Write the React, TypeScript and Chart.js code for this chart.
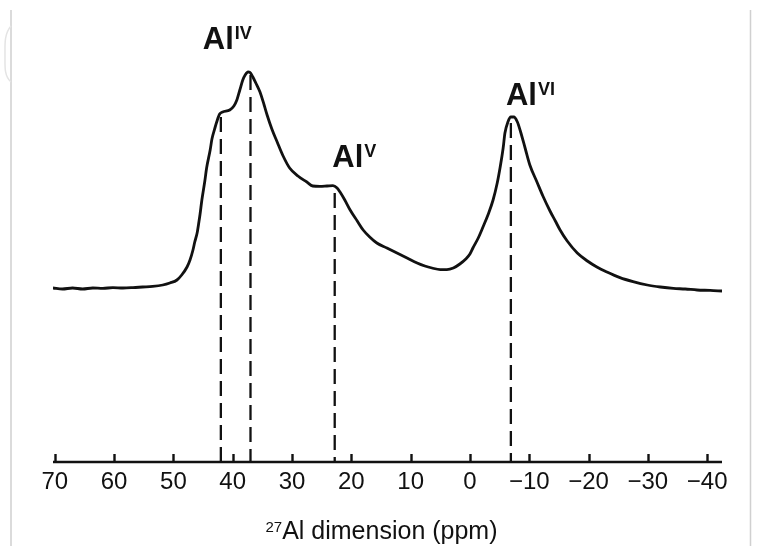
import React, { useEffect, useRef } from "react";
import { Chart, registerables } from "chart.js";

Chart.register(...registerables);

// 27Al chemical shift (ppm), high to low
const shiftPpm = [
  70.3, 68.7, 67.0, 65.3, 63.6, 61.9, 60.2, 58.5, 56.8, 55.2, 53.5, 51.8,
  50.6, 49.4, 48.6, 47.7, 47.2, 46.7, 46.4, 46.0, 45.7, 45.5, 45.2, 44.7,
  44.4, 43.8, 43.5, 43.0, 42.7, 42.2, 41.7, 40.5, 39.8, 39.3, 38.8, 38.3,
  37.9, 37.4, 37.1, 36.6, 36.1, 35.4, 34.7, 34.2, 33.4, 32.5, 31.5, 30.4,
  29.0, 27.5, 26.5, 25.3, 24.1, 23.1, 22.4, 21.9, 21.1, 20.2, 19.0, 18.0,
  16.9, 15.7, 14.0, 12.3, 10.6, 8.9, 7.6, 6.4, 5.0, 3.9, 2.8, 1.7,
  0.7, 0.0, -0.5, -1.4, -2.2, -3.1, -3.9, -4.6, -5.1, -5.6, -5.9, -6.4,
  -6.9, -7.4, -8.0, -8.5, -9.3, -10.1, -11.3, -12.3, -13.5, -14.4, -15.2, -16.4,
  -18.1, -19.8, -21.4, -23.1, -25.3, -27.5, -29.9, -32.1, -34.3, -36.3, -38.3, -40.5,
  -42.5,
];

// signal intensity (arbitrary units)
const intensity = [
  43.5, 43.25, 43.5, 43.25, 43.5, 43.4, 43.6, 43.5, 43.6, 43.75, 43.9, 44.25,
  44.75, 45.5, 46.75, 48.75, 50.5, 53, 55, 57.25, 60, 62, 65.5, 70.25,
  73.5, 78, 80.75, 83.5, 85, 87, 87.5, 88, 89, 90.5, 93, 95.5,
  96.75, 97.5, 97.4, 96.25, 94.75, 92.5, 89.25, 86.75, 83.25, 80, 76.5, 73.5,
  71.5, 70, 69, 68.9, 69, 69.1, 68.5, 67.5, 65.5, 63, 60.25, 58,
  56.25, 54.75, 53.5, 52.25, 51, 49.75, 49, 48.5, 48.1, 48.1, 48.5, 49.5,
  50.75, 52, 53.5, 56, 58.75, 62, 65.5, 69.75, 73.75, 78.5, 82.25, 85,
  86.25, 86.25, 85, 82.75, 78.5, 74.25, 70, 66.5, 62.75, 60.25, 58, 55.25,
  52.25, 50.25, 48.75, 47.5, 46.1, 45.1, 44.25, 43.75, 43.4, 43.25, 43, 42.9,
  42.75,
];

const tickValues = [70, 60, 50, 40, 30, 20, 10, 0, -10, -20, -30, -40];
const xMin = -42.5;
const xMax = 70.3;
const yMin = 0;
const yMax = 115.5;

// dashed marker lines: position (ppm) and top level
const markerPpm = [42.0, 37.0, 22.8, -6.9];
const markerTop = [86.25, 96.75, 67.25, 84.75];

// peak labels
const peakSup = ["IV", "V", "VI"];
const peakLabelPpm = [40.9, 19.5, -10.2];
const peakLabelLevel = [103.3, 73.75, 89.25];

const titleSup = "27";
const titleMain = "Al dimension (ppm)";

const FONT = '"Liberation Sans", Arial, Helvetica, sans-serif';
const INK = "#111111";

const fmtTick = (v: number) => (v < 0 ? "\u2212" + Math.abs(v) : String(v));

const decorPlugin = {
  id: "decor",
  afterDraw(chart: any) {
    const { ctx, chartArea } = chart;
    const xs = chart.scales.x;
    const ys = chart.scales.y;
    ctx.save();

    // page frame artifacts (light grey)
    ctx.strokeStyle = "#d0d0d0";
    ctx.lineWidth = 1.5;
    ctx.beginPath();
    ctx.moveTo(11, 10);
    ctx.lineTo(11, 546);
    ctx.moveTo(750.5, 10);
    ctx.lineTo(750.5, 546);
    ctx.stroke();
    ctx.strokeStyle = "#e4e4e4";
    ctx.beginPath();
    ctx.moveTo(11, 26);
    ctx.bezierCurveTo(4, 34, 5, 45, 5, 55);
    ctx.bezierCurveTo(5, 66, 4, 76, 11, 82);
    ctx.stroke();

    // axis line
    ctx.strokeStyle = INK;
    ctx.lineWidth = 2.6;
    ctx.beginPath();
    ctx.moveTo(chartArea.left, chartArea.bottom);
    ctx.lineTo(chartArea.right, chartArea.bottom);
    ctx.stroke();

    // inward ticks
    ctx.lineWidth = 2.4;
    ctx.beginPath();
    for (const v of tickValues) {
      const px = Math.round(xs.getPixelForValue(v)) + 0.5;
      ctx.moveTo(px, chartArea.bottom);
      ctx.lineTo(px, chartArea.bottom - 8);
    }
    ctx.stroke();

    // peak labels
    ctx.fillStyle = INK;
    ctx.textBaseline = "alphabetic";
    ctx.textAlign = "left";
    for (let i = 0; i < peakSup.length; i++) {
      const cx = xs.getPixelForValue(peakLabelPpm[i]);
      const by = ys.getPixelForValue(peakLabelLevel[i]);
      ctx.font = `bold 31px ${FONT}`;
      const w1 = ctx.measureText("Al").width;
      ctx.font = `bold 18px ${FONT}`;
      const w2 = ctx.measureText(peakSup[i]).width;
      const left = cx - (w1 + 1 + w2) / 2;
      ctx.font = `bold 31px ${FONT}`;
      ctx.fillText("Al", left, by);
      ctx.font = `bold 18px ${FONT}`;
      ctx.fillText(peakSup[i], left + w1 + 1, by - 10);
    }

    // axis title with superscript
    ctx.font = `15px ${FONT}`;
    const ws = ctx.measureText(titleSup).width;
    ctx.font = `25px ${FONT}`;
    const wm = ctx.measureText(titleMain).width;
    const tcx = (chartArea.left + chartArea.right) / 2 - 6;
    const tl = tcx - (ws + wm) / 2;
    const tb = chartArea.bottom + 77;
    ctx.font = `15px ${FONT}`;
    ctx.fillText(titleSup, tl, tb - 7);
    ctx.font = `25px ${FONT}`;
    ctx.fillText(titleMain, tl + ws, tb);

    ctx.restore();
  },
};

export default function App() {
  const ref = useRef<HTMLCanvasElement | null>(null);

  useEffect(() => {
    if (!ref.current) return;
    const spectrum = shiftPpm.map((x, i) => ({ x, y: intensity[i] }));
    const markerSets = markerPpm.map((p, i) => ({
      data: [
        { x: p, y: markerTop[i] },
        { x: p, y: yMin },
      ],
      borderColor: INK,
      borderWidth: 2.3,
      borderDash: [15, 7],
      pointRadius: 0,
      tension: 0,
      fill: false,
    }));

    const chart = new Chart(ref.current, {
      type: "line",
      data: {
        datasets: [
          {
            data: spectrum,
            borderColor: INK,
            borderWidth: 2.8,
            pointRadius: 0,
            cubicInterpolationMode: "monotone",
            fill: false,
          } as any,
          ...(markerSets as any[]),
        ],
      },
      options: {
        animation: false,
        responsive: false,
        devicePixelRatio: 1,
        layout: { padding: { left: 53, right: 37, top: 0, bottom: 0 } },
        plugins: {
          legend: { display: false },
          tooltip: { enabled: false },
          title: { display: false },
        },
        scales: {
          x: {
            type: "linear",
            reverse: true,
            min: xMin,
            max: xMax,
            afterBuildTicks: (s: any) => {
              s.ticks = tickValues.map((value) => ({ value }));
            },
            afterFit: (s: any) => {
              s.height = 84;
            },
            grid: { display: false, drawTicks: false },
            border: { display: false },
            ticks: {
              autoSkip: false,
              maxRotation: 0,
              padding: 6,
              color: INK,
              font: { size: 24, family: FONT },
              callback: (v: any) => fmtTick(Number(v)),
            },
          },
          y: {
            display: false,
            min: yMin,
            max: yMax,
          },
        },
      } as any,
      plugins: [decorPlugin],
    });
    return () => chart.destroy();
  }, []);

  return (
    <div style={{ position: "fixed", left: 0, top: 0, width: 759, height: 546, background: "#fff" }}>
      <canvas ref={ref} width={759} height={546} style={{ display: "block", width: 759, height: 546 }} />
    </div>
  );
}
